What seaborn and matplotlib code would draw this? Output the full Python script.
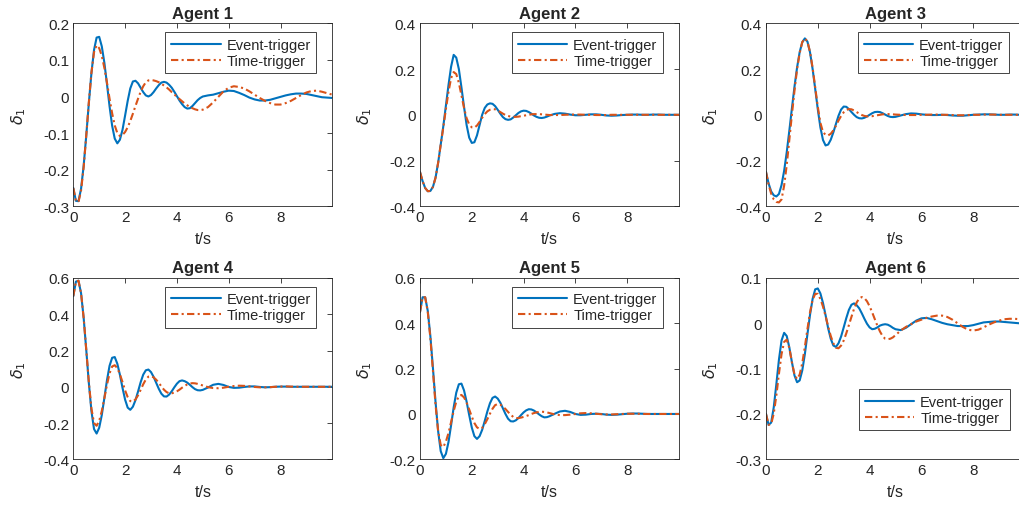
import numpy as np
import pandas as pd
import seaborn as sns
import matplotlib.pyplot as plt
from matplotlib.ticker import FuncFormatter

# sample times: 0.1 s up to 5 s, then 0.2 s up to 10 s
t_fine = np.round(np.arange(0, 5.01, 0.1), 2)
t_coarse = np.round(np.arange(5.2, 10.01, 0.2), 2)
t = np.concatenate([t_fine, t_coarse])

agent1_event = [-0.25, -0.285, -0.286, -0.252, -0.189, -0.107, -0.018, 0.064, 0.127, 0.161,
                0.163, 0.137, 0.092, 0.034, -0.027, -0.08, -0.115, -0.128, -0.118, -0.091,
                -0.052, -0.012, 0.022, 0.041, 0.043, 0.036, 0.024, 0.012, 0.003, 0.0,
                0.004, 0.012, 0.022, 0.031, 0.038, 0.04, 0.038, 0.032, 0.024, 0.013,
                0.001, -0.011, -0.021, -0.029, -0.033, -0.032, -0.026, -0.018, -0.01, -0.004,
                0.0,
                0.003, 0.005, 0.009, 0.013, 0.016, 0.015, 0.01, 0.004, -0.003, -0.008,
                -0.011, -0.011, -0.009, -0.005, -0.001, 0.003, 0.006, 0.008, 0.008, 0.007,
                0.004, 0.001, -0.002, -0.003, -0.004]
agent1_time = [-0.25, -0.285, -0.288, -0.257, -0.193, -0.107, -0.016, 0.065, 0.121, 0.14,
               0.132, 0.111, 0.078, 0.038, -0.006, -0.046, -0.079, -0.1, -0.108, -0.105,
               -0.097, -0.084, -0.067, -0.047, -0.026, -0.006, 0.013, 0.028, 0.039, 0.044,
               0.045, 0.044, 0.042, 0.039, 0.035, 0.03, 0.025, 0.019, 0.012, 0.006,
               -0.001, -0.007, -0.013, -0.019, -0.024, -0.029, -0.032, -0.035, -0.037, -0.037,
               -0.036,
               -0.029, -0.016, -0.001, 0.014, 0.024, 0.028, 0.026, 0.022, 0.014, 0.005,
               -0.004, -0.012, -0.018, -0.022, -0.022, -0.018, -0.012, -0.004, 0.004, 0.011,
               0.015, 0.016, 0.013, 0.009, 0.005]

agent2_event = [-0.25, -0.29, -0.32, -0.334, -0.333, -0.315, -0.275, -0.21, -0.13, -0.05,
                0.04, 0.13, 0.21, 0.262, 0.25, 0.2, 0.12, 0.035, -0.045, -0.1,
                -0.123, -0.12, -0.09, -0.045, 0.0, 0.03, 0.045, 0.05, 0.048, 0.038,
                0.022, 0.005, -0.01, -0.019, -0.022, -0.02, -0.012, -0.002, 0.008, 0.015,
                0.018, 0.017, 0.012, 0.005, -0.003, -0.009, -0.013, -0.014, -0.012, -0.008,
                -0.003,
                0.004, 0.007, 0.005, 0.001, -0.002, -0.002, 0.0, 0.002, 0.002, 0.0,
                -0.003, -0.004, -0.003, -0.001, 0.0, 0.001, 0.001, 0.0, 0.0, 0.001,
                0.001, 0.0, 0.0, 0.0, 0.0]
agent2_time = [-0.25, -0.29, -0.32, -0.334, -0.333, -0.315, -0.275, -0.21, -0.13, -0.055,
               0.025, 0.1, 0.16, 0.187, 0.178, 0.14, 0.085, 0.03, -0.015, -0.042,
               -0.055, -0.056, -0.047, -0.031, -0.013, 0.003, 0.015, 0.022, 0.025, 0.024,
               0.019, 0.012, 0.005, -0.001, -0.005, -0.008, -0.009, -0.009, -0.008, -0.006,
               -0.004, -0.002, 0.0, 0.002, 0.003, 0.003, 0.003, 0.002, 0.001, 0.0,
               -0.001,
               -0.001, -0.001, 0.0, 0.001, 0.001, 0.001, 0.0, 0.0, -0.001, -0.001,
               -0.001, 0.0, 0.0, 0.0, 0.0, 0.0, 0.0, 0.0, 0.0, 0.0,
               0.0, 0.0, 0.0, 0.0, 0.0]

agent3_event = [-0.25, -0.3, -0.335, -0.352, -0.357, -0.346, -0.307, -0.245, -0.164, -0.07,
                0.028, 0.123, 0.207, 0.274, 0.317, 0.334, 0.32, 0.273, 0.2, 0.113,
                0.024, -0.055, -0.11, -0.134, -0.13, -0.109, -0.077, -0.04, -0.004, 0.023,
                0.036, 0.035, 0.025, 0.012, 0.0, -0.01, -0.015, -0.016, -0.013, -0.007,
                0.0, 0.007, 0.012, 0.013, 0.012, 0.007, 0.001, -0.005, -0.009, -0.01,
                -0.009,
                -0.003, 0.003, 0.006, 0.005, 0.002, 0.0, -0.001, -0.001, 0.0, -0.001,
                -0.003, -0.004, -0.004, -0.002, 0.0, 0.001, 0.002, 0.002, 0.001, 0.0,
                0.0, 0.001, 0.001, 0.0, 0.0]
agent3_time = [-0.25, -0.305, -0.345, -0.37, -0.381, -0.383, -0.37, -0.31, -0.22, -0.11,
               0.0, 0.105, 0.2, 0.27, 0.318, 0.334, 0.32, 0.275, 0.205, 0.12,
               0.035, -0.035, -0.075, -0.088, -0.09, -0.083, -0.068, -0.048, -0.025, -0.005,
               0.011, 0.021, 0.025, 0.024, 0.019, 0.012, 0.005, -0.001, -0.005, -0.007,
               -0.007, -0.006, -0.004, -0.002, 0.0, 0.002, 0.003, 0.003, 0.003, 0.002,
               0.001,
               0.0, -0.001, -0.001, -0.001, 0.0, 0.0, 0.001, 0.001, 0.0, 0.0,
               -0.001, -0.002, -0.002, -0.001, 0.0, 0.0, 0.001, 0.001, 0.001, 0.0,
               0.0, 0.0, 0.0, 0.0, 0.0]

agent4_event = [0.5, 0.58, 0.585, 0.516, 0.38, 0.204, 0.021, -0.134, -0.233, -0.258,
                -0.226, -0.156, -0.061, 0.036, 0.116, 0.16, 0.164, 0.127, 0.066, -0.006,
                -0.071, -0.115, -0.127, -0.11, -0.074, -0.026, 0.025, 0.067, 0.091, 0.095,
                0.081, 0.055, 0.022, -0.011, -0.038, -0.053, -0.054, -0.043, -0.025, -0.003,
                0.017, 0.031, 0.035, 0.031, 0.023, 0.011, -0.002, -0.013, -0.019, -0.02,
                -0.017,
                -0.004, 0.011, 0.016, 0.01, -0.001, -0.006, -0.005, -0.001, 0.002, 0.002,
                -0.001, -0.003, -0.002, 0.0, 0.001, 0.001, 0.0, 0.0, 0.0, 0.0,
                0.0, 0.0, 0.0, 0.0, 0.0]
agent4_time = [0.5, 0.58, 0.585, 0.516, 0.38, 0.205, 0.025, -0.12, -0.2, -0.215,
               -0.188, -0.134, -0.063, 0.011, 0.074, 0.112, 0.119, 0.103, 0.069, 0.026,
               -0.02, -0.057, -0.079, -0.082, -0.07, -0.047, -0.017, 0.014, 0.04, 0.056,
               0.059, 0.052, 0.039, 0.022, 0.002, -0.016, -0.029, -0.036, -0.036, -0.032,
               -0.025, -0.016, -0.005, 0.005, 0.013, 0.018, 0.02, 0.019, 0.016, 0.012,
               0.007,
               -0.002, -0.007, -0.008, -0.005, 0.0, 0.004, 0.006, 0.005, 0.002, -0.001,
               -0.003, -0.003, -0.002, 0.0, 0.001, 0.002, 0.001, 0.0, 0.0, 0.0,
               0.0, 0.0, 0.0, 0.0, 0.0]

agent5_event = [0.45, 0.515, 0.515, 0.455, 0.344, 0.202, 0.053, -0.076, -0.164, -0.195,
                -0.176, -0.124, -0.05, 0.029, 0.094, 0.131, 0.134, 0.104, 0.054, -0.005,
                -0.06, -0.098, -0.11, -0.098, -0.07, -0.031, 0.011, 0.047, 0.071, 0.077,
                0.068, 0.05, 0.025, 0.0, -0.021, -0.032, -0.033, -0.028, -0.018, -0.005,
                0.007, 0.016, 0.021, 0.02, 0.015, 0.007, -0.002, -0.01, -0.015, -0.014,
                -0.01,
                0.001, 0.011, 0.014, 0.009, 0.0, -0.004, -0.003, 0.0, 0.001, 0.0,
                -0.003, -0.004, -0.003, -0.001, 0.001, 0.002, 0.002, 0.001, 0.0, 0.0,
                0.0, 0.0, 0.0, 0.0, 0.0]
agent5_time = [0.45, 0.515, 0.515, 0.45, 0.335, 0.19, 0.04, -0.075, -0.137, -0.146,
               -0.122, -0.084, -0.036, 0.013, 0.054, 0.079, 0.084, 0.073, 0.05, 0.02,
               -0.012, -0.04, -0.059, -0.066, -0.061, -0.045, -0.023, 0.001, 0.023, 0.039,
               0.044, 0.041, 0.033, 0.022, 0.009, -0.003, -0.013, -0.018, -0.018, -0.016,
               -0.013, -0.009, -0.005, 0.0, 0.004, 0.007, 0.009, 0.01, 0.009, 0.007,
               0.004,
               -0.002, -0.005, -0.005, -0.003, 0.0, 0.003, 0.004, 0.003, 0.001, -0.001,
               -0.002, -0.002, -0.001, 0.0, 0.001, 0.001, 0.001, 0.0, 0.0, 0.0,
               0.0, 0.0, 0.0, 0.0, 0.0]

agent6_event = [-0.2, -0.224, -0.219, -0.185, -0.134, -0.08, -0.038, -0.021, -0.028, -0.053,
                -0.0855, -0.115, -0.13, -0.126, -0.104, -0.068, -0.024, 0.019, 0.054, 0.075,
                0.077, 0.066, 0.045, 0.018, -0.011, -0.034, -0.049, -0.052, -0.044, -0.029,
                -0.009, 0.0115, 0.0296, 0.041, 0.044, 0.04, 0.033, 0.022, 0.01, -0.001,
                -0.009, -0.013, -0.012, -0.009, -0.005, -0.003, -0.002, -0.003, -0.006, -0.01,
                -0.013,
                -0.015, -0.01, -0.002, 0.006, 0.011, 0.012, 0.009, 0.005, 0.001, -0.002,
                -0.004, -0.006, -0.006, -0.006, -0.004, -0.001, 0.002, 0.003, 0.004, 0.004,
                0.003, 0.002, 0.001, 0.0, 0.0]
agent6_time = [-0.2, -0.224, -0.222, -0.199, -0.159, -0.111, -0.068, -0.041, -0.036, -0.054,
               -0.086, -0.113, -0.123, -0.113, -0.088, -0.052, -0.0125, 0.0245, 0.052, 0.065,
               0.065, 0.054, 0.037, 0.016, -0.007, -0.028, -0.044, -0.054, -0.055, -0.049,
               -0.038, -0.022, -0.004, 0.0144, 0.032, 0.046, 0.055, 0.058, 0.0556, 0.0486,
               0.0377, 0.0241, 0.0093, -0.0053, -0.018, -0.028, -0.034, -0.035, -0.034, -0.031,
               -0.026,
               -0.016, -0.008, -0.002, 0.004, 0.008, 0.012, 0.015, 0.017, 0.017, 0.014,
               0.008, 0.0, -0.008, -0.014, -0.016, -0.014, -0.009, -0.003, 0.002, 0.006,
               0.009, 0.01, 0.01, 0.009, 0.008]

titles = ['Agent 1', 'Agent 2', 'Agent 3', 'Agent 4', 'Agent 5', 'Agent 6']
events = [agent1_event, agent2_event, agent3_event, agent4_event, agent5_event, agent6_event]
times = [agent1_time, agent2_time, agent3_time, agent4_time, agent5_time, agent6_time]
ylims = [(-0.3, 0.2), (-0.4, 0.4), (-0.4, 0.4), (-0.4, 0.6), (-0.2, 0.6), (-0.3, 0.1)]
ysteps = [0.1, 0.2, 0.2, 0.2, 0.2, 0.1]
methods = ['Event-trigger', 'Time-trigger']

sns.set_theme(style='white')
plt.rcParams['font.family'] = ['Liberation Sans', 'DejaVu Sans']
plt.rcParams['axes.unicode_minus'] = False
plt.rcParams['mathtext.fontset'] = 'dejavusans'

W, H = 1019, 506
fig = plt.figure(figsize=(W / 100, H / 100), dpi=100)
lefts = [73.3, 420, 766]
rows = [(24.3, 207.3), (279, 460.3)]
axw = 259
palette = {'Event-trigger': '#0072BD', 'Time-trigger': '#D95319'}
dashes = {'Event-trigger': '', 'Time-trigger': (3.5, 1.6, 1.0, 1.6)}
grey = '0.15'

fmt = FuncFormatter(lambda v, p: '0' if abs(v) < 1e-9 else f'{v:g}')

for i in range(6):
    r, c = divmod(i, 3)
    top, bot = rows[r]
    ax = fig.add_axes([lefts[c] / W, (H - bot) / H, axw / W, (bot - top) / H])
    df = pd.DataFrame({'t': t, 'Event-trigger': events[i], 'Time-trigger': times[i]})
    df = df.melt(id_vars='t', var_name='method', value_name='delta')
    sns.lineplot(data=df, x='t', y='delta', hue='method', style='method',
                 hue_order=methods, style_order=methods, palette=palette,
                 dashes=dashes, estimator=None, linewidth=1.5, legend=False, ax=ax)

    lo, hi = ylims[i]
    ax.set_xlim(0, 10)
    ax.set_ylim(lo, hi)
    ax.set_xticks([0, 2, 4, 6, 8])
    ax.set_yticks(np.round(np.arange(lo, hi + 1e-9, ysteps[i]), 2))
    ax.yaxis.set_major_formatter(fmt)
    ax.xaxis.set_major_formatter(fmt)
    ax.tick_params(direction='in', top=True, right=True, length=3.5, width=0.6,
                   colors=grey, labelsize=11, pad=3)
    for s in ax.spines.values():
        s.set_color(grey)
        s.set_linewidth(0.6)
    ax.set_xlabel('t/s', fontsize=11.5, color=grey, labelpad=5)
    ax.set_ylabel(r'$\delta_1$', fontsize=11.5, color=grey, labelpad=11)
    ax.set_title(titles[i], fontsize=12, fontweight='bold', pad=4)

    handles = ax.lines[:2]
    if i == 5:
        loc, anchor = 'lower right', (0.942, 0.16)
    else:
        loc, anchor = 'upper right', (0.938, 0.951)
    leg = ax.legend(handles, methods, loc=loc, bbox_to_anchor=anchor,
                    fontsize=10.5, handlelength=3.4, handletextpad=0.4,
                    borderpad=0.38, labelspacing=0.14, borderaxespad=0,
                    fancybox=False, framealpha=1, edgecolor=grey)
    leg.get_frame().set_linewidth(0.6)

fig.savefig('out.png', dpi=100)
